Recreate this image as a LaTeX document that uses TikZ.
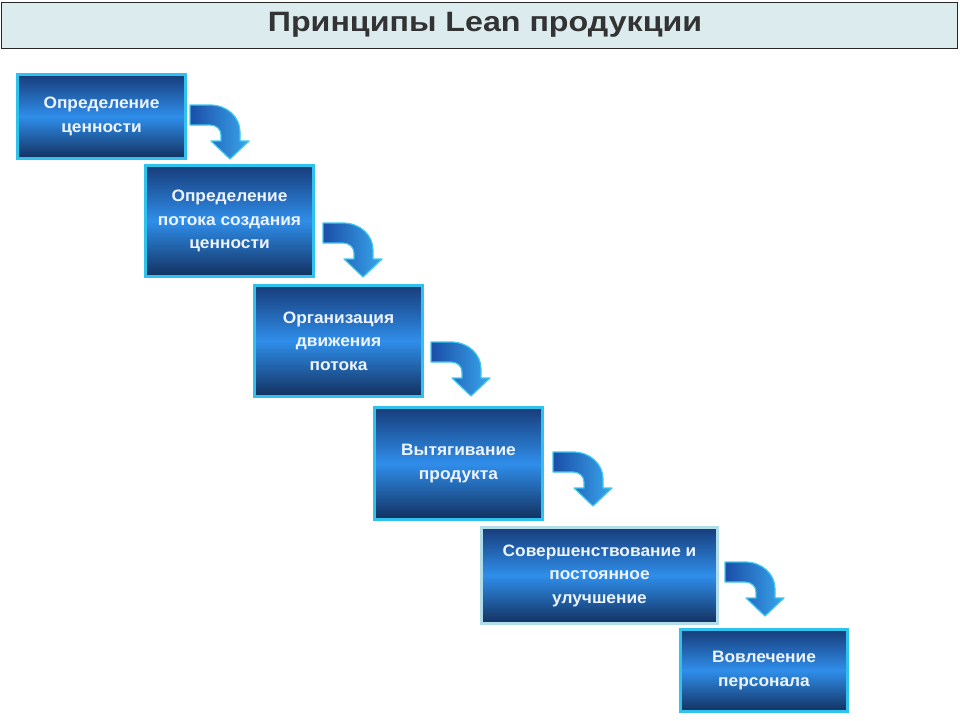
\documentclass[tikz,border=0pt]{standalone}
\usepackage{fontspec}
\setmainfont{Liberation Sans}
\usepackage{graphicx}
\definecolor{titlefill}{HTML}{DCEBEE}
\definecolor{titletext}{HTML}{333333}
\definecolor{boxcyan}{HTML}{2EC2EC}
\definecolor{boxpale}{HTML}{B2DCE8}
\definecolor{boxtop}{HTML}{173C7A}
\definecolor{boxmid}{HTML}{2F8EEA}
\definecolor{boxbot}{HTML}{12305F}
\definecolor{boxtext}{HTML}{EEF4FF}
\definecolor{arrleft}{HTML}{1A4EA8}
\definecolor{arrright}{HTML}{3AA6EC}
\definecolor{arredge}{HTML}{3CC8F0}
\newcommand\sx[1]{\scalebox{1.05}[1]{#1}}
\newcommand\tx[1]{\scalebox{1.15}[1]{#1}}
\begin{document}
\begin{tikzpicture}[x=1pt,y=-1pt,
  leanbox/.style={draw=boxcyan, line width=3pt, top color=boxtop, bottom color=boxbot, middle color=boxmid,
    align=center, text=boxtext, font=\fontsize{16.5}{23.5}\selectfont\bfseries, inner sep=0pt},
  arrowshape/.style={draw=arredge, line width=1.2pt, left color=arrleft, right color=arrright, line join=round},
  leanarrow/.pic={\path[arrowshape] (0,0) -- (20,0) .. controls (37,0) and (50,12) .. (50,27) -- (50,36) -- (59,36) -- (40,54) -- (21,36) -- (31,36) -- (31,30) .. controls (31,24) and (26,20) .. (20,20) -- (0,20) -- cycle;}
]
\useasboundingbox (0,0) rectangle (960,720);
\fill[white] (0,0) rectangle (960,720);
% title bar
\node[draw=black!85, line width=1.5pt, fill=titlefill, minimum width=956pt, minimum height=46pt, inner sep=0pt] (title) at (479.5,25.5) {};
\node[text=titletext, font=\fontsize{28}{32}\selectfont\bfseries, inner sep=0pt] (titletxt) at (485,25) {\tx{Принципы Lean продукции}};
% boxes
\node[leanbox, minimum width=168pt, minimum height=84pt] (b1) at (101.5,116.5) {\sx{Определение}\\\sx{ценности}};
\node[leanbox, minimum width=168pt, minimum height=111pt] (b2) at (229.5,221) {\sx{Определение}\\\sx{потока создания}\\\sx{ценности}};
\node[leanbox, minimum width=168pt, minimum height=111pt] (b3) at (338.5,341) {\sx{Организация}\\\sx{движения}\\\sx{потока}};
\node[leanbox, minimum width=168pt, minimum height=112pt] (b4) at (458.5,463.5) {\sx{Вытягивание}\\\sx{продукта}};
\node[leanbox, draw=boxpale, minimum width=236pt, minimum height=96pt] (b5) at (599.5,575.5) {\sx{Совершенствование и}\\\sx{постоянное}\\\sx{улучшение}};
\node[leanbox, minimum width=167pt, minimum height=82pt] (b6) at (764,670.5) {\sx{Вовлечение}\\\sx{персонала}};
% arrows
\pic at (190,105) {leanarrow};
\pic at (323,223) {leanarrow};
\pic at (431,342) {leanarrow};
\pic at (553,452) {leanarrow};
\pic at (725,562) {leanarrow};
\end{tikzpicture}
\end{document}
